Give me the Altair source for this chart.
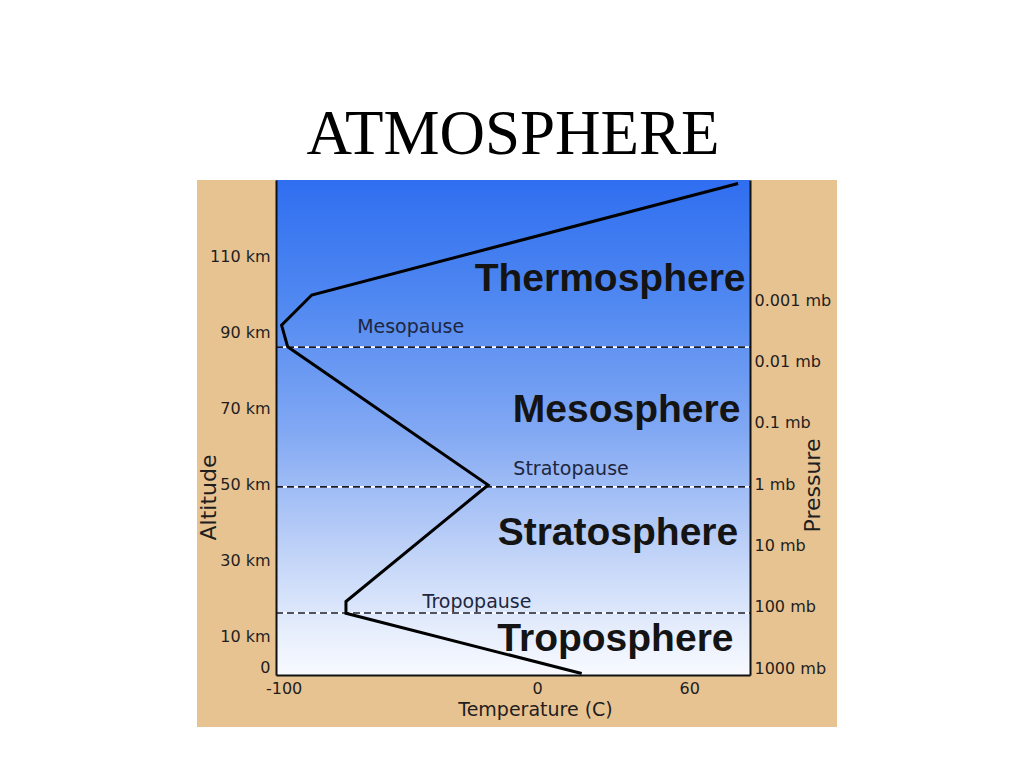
import altair as alt
import pandas as pd

# ---- data ----
profile_temp = [17.6, -75.4, -75.4, -19.3, -98.4, -100.8, -88.9, 79.3]
profile_alt = [0.4, 16.2, 19.3, 49.9, 86.2, 91.9, 99.8, 129.1]

pause_names = ["Tropopause", "Stratopause", "Mesopause"]
pause_alt = [16.3, 49.4, 86.1]
pause_label_temp = [-23.7, 13.4, -49.9]
pause_label_alt = [17.6, 52.5, 89.8]

layer_names = ["Troposphere", "Stratosphere", "Mesosphere", "Thermosphere"]
layer_label_temp = [30.9, 31.9, 35.3, 28.8]
layer_label_alt = [6.3, 34.1, 66.4, 100.8]

altitude_ticks = [0, 10, 30, 50, 70, 90, 110]
temperature_ticks = [-100, 0, 60]
pressure_ticks = [1000, 100, 10, 1, 0.1, 0.01, 0.001]

temp_domain = [-103, 84]
alt_domain = [0, 130]
pressure_domain = [0.000011, 1300]

# ---- tables ----
profile_df = pd.DataFrame({"temp": profile_temp, "alt": profile_alt,
                           "idx": list(range(len(profile_temp)))})
pause_df = pd.DataFrame({"name": pause_names, "alt": pause_alt})
pause_lbl_df = pd.DataFrame({"name": pause_names, "temp": pause_label_temp,
                             "alt": pause_label_alt})
layer_lbl_df = pd.DataFrame({"name": layer_names, "temp": layer_label_temp,
                             "alt": layer_label_alt})
pressure_df = pd.DataFrame({"p": pressure_ticks})
one_row = pd.DataFrame({"k": [0]})

W, H = 474, 495
FONT = "DejaVu Sans"
INK = "#1e1e1e"

x_scale = alt.Scale(domain=temp_domain, nice=False, zero=False)
y_scale = alt.Scale(domain=alt_domain, nice=False, zero=False)

x_axis = alt.Axis(values=temperature_ticks, title="Temperature (C)", ticks=False,
                  labelExpr="datum.value + ''",
                  grid=False, domainColor="#111111", domainWidth=2,
                  labelFont=FONT, labelFontSize=16, labelColor=INK, labelPadding=5,
                  labelFlush=False, titleFont=FONT, titleFontSize=19,
                  titleFontWeight="normal", titleColor=INK,
                  titleX=259, titleY=34, titleAlign="center", titleBaseline="middle",
                  zindex=1)
y_axis = alt.Axis(values=altitude_ticks, title="Altitude",
                  labelExpr="datum.value == 0 ? '0' : datum.value + ' km'",
                  ticks=False, grid=False, domainColor="#111111", domainWidth=2,
                  labelFont=FONT, labelFontSize=16, labelColor=INK, labelPadding=6,
                  labelFlush=True, titleFont=FONT, titleFontSize=22,
                  titleFontWeight="normal", titleColor=INK, titleAngle=270,
                  titleX=-68, titleY=317, titleAlign="center", titleBaseline="middle",
                  zindex=1)
p_axis = alt.Axis(orient="right", values=pressure_ticks, title="Pressure",
                  labelExpr="datum.value + ' mb'", ticks=False, grid=False,
                  domainColor="#111111", domainWidth=2,
                  labelFont=FONT, labelFontSize=16, labelColor=INK, labelPadding=4,
                  labelFlush=False, titleFont=FONT, titleFontSize=22,
                  titleFontWeight="normal", titleColor=INK, titleAngle=270,
                  titleX=62, titleY=305, titleAlign="center", titleBaseline="middle",
                  zindex=1)


def X(field):
    return alt.X(field, scale=x_scale, axis=x_axis)


def Y(field):
    return alt.Y(field, scale=y_scale, axis=y_axis)


tan = alt.Chart(one_row).mark_rect(color="#E8C392").encode(
    x=alt.value(-79), x2=alt.value(561), y=alt.value(0), y2=alt.value(547))

grad = alt.LinearGradient(
    gradient="linear", x1=0, x2=0, y1=0, y2=1,
    stops=[alt.GradientStop(color="#2f6ef0", offset=0),
           alt.GradientStop(color="#5189f1", offset=0.25),
           alt.GradientStop(color="#80a7f3", offset=0.5),
           alt.GradientStop(color="#b8cdf7", offset=0.72),
           alt.GradientStop(color="#e4ecfc", offset=0.9),
           alt.GradientStop(color="#f8faff", offset=1)])
sky = alt.Chart(one_row).mark_rect(color=grad).encode(
    x=alt.value(0), x2=alt.value("width"), y=alt.value(0), y2=alt.value("height"))

line = alt.Chart(profile_df).mark_line(color="black", strokeWidth=3,
                                       strokeJoin="miter").encode(
    x=X("temp:Q"), y=Y("alt:Q"), order="idx:Q")

rule_white = alt.Chart(pause_df).mark_rule(color="white", strokeWidth=1.6).encode(
    y=Y("alt:Q"), x=alt.value(0), x2=alt.value("width"))
rule_dash = alt.Chart(pause_df).mark_rule(color="#1a1a2e", strokeWidth=1.6,
                                          strokeDash=[7, 4]).encode(
    y=Y("alt:Q"), x=alt.value(0), x2=alt.value("width"))

small_txt = alt.Chart(pause_lbl_df).mark_text(
    font=FONT, fontSize=19, color="#1e2640", align="center",
    baseline="alphabetic").encode(
    x=X("temp:Q"), y=Y("alt:Q"), text="name:N")

big_txt = alt.Chart(layer_lbl_df).mark_text(
    font="Liberation Sans", fontSize=39, fontWeight="bold", color="#141414",
    align="center", baseline="alphabetic").encode(
    x=X("temp:Q"), y=Y("alt:Q"), text="name:N")

main = alt.layer(tan, sky, rule_white, rule_dash, line, small_txt, big_txt)

pressure = alt.Chart(pressure_df).mark_point(opacity=0).encode(
    y=alt.Y("p:Q", scale=alt.Scale(type="log", domain=pressure_domain,
                                   nice=False, reverse=True), axis=p_axis),
    x=alt.value(0))

chart = alt.layer(main, pressure).resolve_scale(y="independent").properties(
    width=W, height=H,
    title=alt.TitleParams(text="ATMOSPHERE", font="Liberation Serif", fontSize=63,
                          fontWeight="normal", color="black", anchor="middle",
                          baseline="alphabetic", offset=27, dy=67),
    padding={"left": 268, "top": 172, "right": 266, "bottom": 80},
    autosize=alt.AutoSizeParams(type="none"),
).configure_view(stroke=None).configure(background="white")

chart.save("out.html", embed_options={"renderer": "svg", "actions": False})
